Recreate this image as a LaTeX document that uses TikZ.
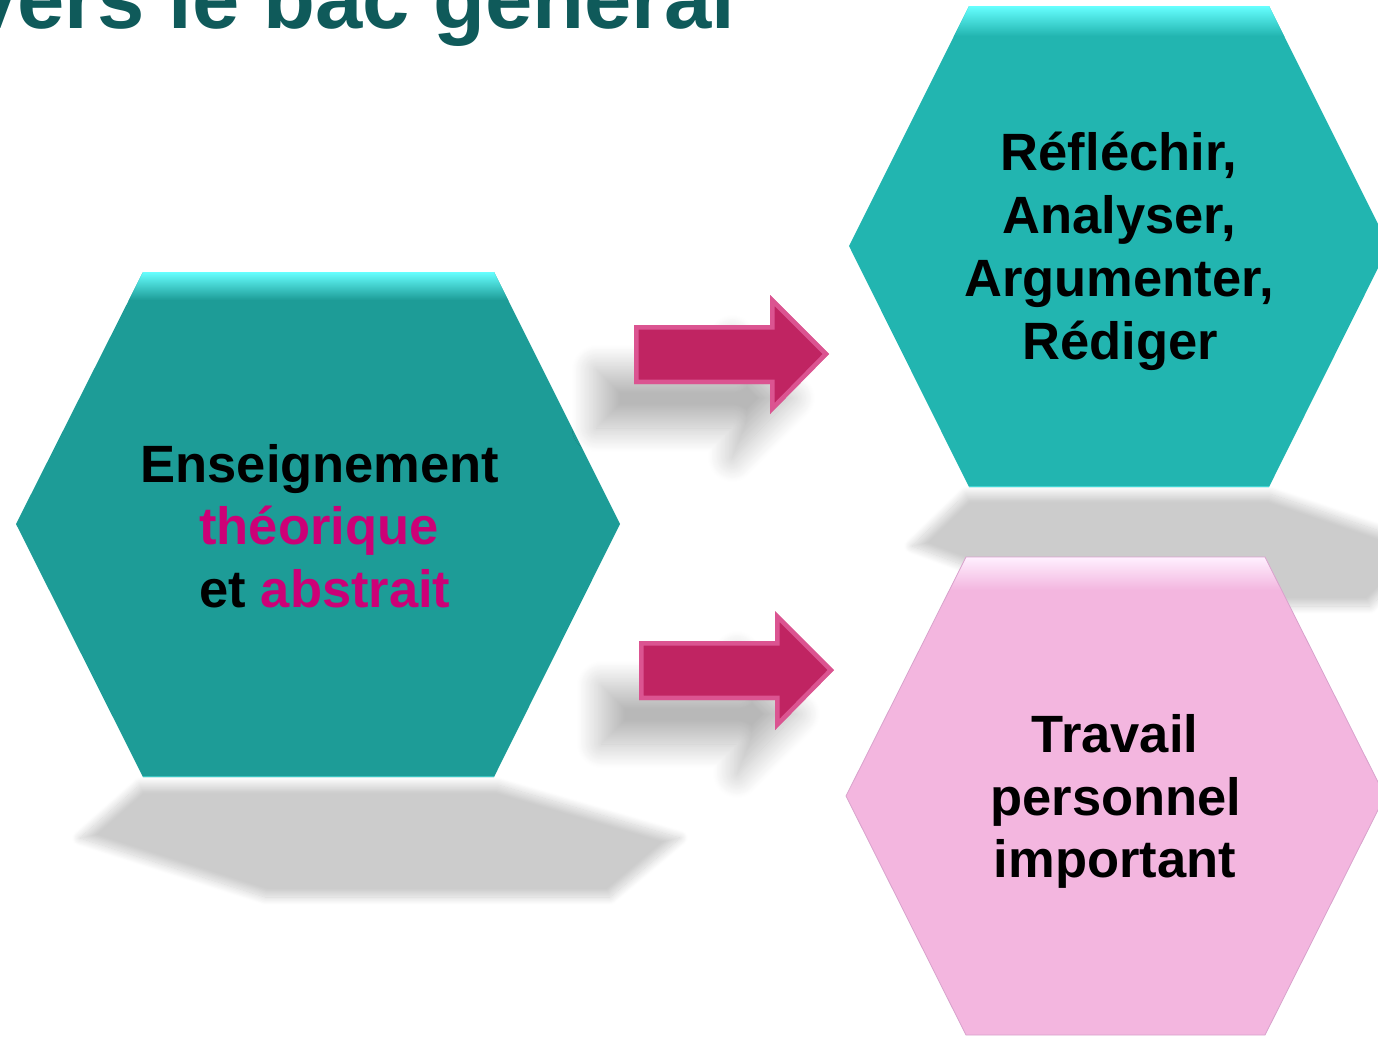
\documentclass[tikz,border=0pt]{standalone}
\usepackage{fontspec}
\setmainfont{Liberation Sans}
\usetikzlibrary{shadows.blur}
\definecolor{tealL}{HTML}{1D9C97}
\definecolor{tealR}{HTML}{22B5B0}
\definecolor{tealhi}{HTML}{66FFFF}
\definecolor{pinkhex}{HTML}{F3B6DF}
\definecolor{pinkhi}{HTML}{FFF0FF}
\definecolor{pinkedge}{HTML}{D8A2CC}
\definecolor{arrowc}{HTML}{C02462}
\definecolor{arrowhi}{HTML}{F27DB9}
\definecolor{mag}{HTML}{CC0077}
\definecolor{titlec}{HTML}{0F5A5A}
\begin{document}
\begin{tikzpicture}[x=1pt,y=-1pt,
  txt/.style={font=\fontsize{52.5}{63}\selectfont\bfseries, inner sep=0pt, anchor=base, text=black},
  floorshadow/.style={blur shadow={shadow xshift=0pt,shadow yshift=0pt,shadow blur radius=8pt,shadow opacity=20,shadow blur steps=20}},
  arrowshadow/.style={blur shadow={shadow xshift=-38pt,shadow yshift=-44pt,shadow blur radius=24pt,shadow opacity=28,shadow blur steps=30}},
  bevel/.style={draw=arrowhi, line width=9pt, opacity=0.55, line join=miter}
]
\useasboundingbox (0,0) rectangle (1378,1037);
\clip (0,0) rectangle (1378,1037);

% title (cut at top, as in the reference)
\node[font=\fontsize{85}{100}\selectfont\bfseries, text=titlec, anchor=base west, inner sep=0pt] (title) at (-30,28) {vers le bac général};

% floor shadows of hexagons
\path[floorshadow] (140,785) -- (498,785) -- (680,838) -- (610,897) -- (265,897) -- (80,838) -- cycle;
\path[floorshadow] (966,494) -- (1270,494) -- (1430,548) -- (1370,606) -- (1075,606) -- (912,546) -- cycle;

% left hexagon
\fill[tealL] (143,272) -- (494,272) -- (620,524) -- (494,777) -- (143,777) -- (16,524) -- cycle;
\begin{scope}
  \clip (143,272) -- (494,272) -- (620,524) -- (494,777) -- (143,777) -- (16,524) -- cycle;
  \shade[top color=tealhi, bottom color=tealL] (0,272) rectangle (700,300);
  \draw[tealhi!40!tealL, line width=3pt] (143,777) -- (494,777);
\end{scope}

% top right hexagon
\fill[tealR] (969,6) -- (1269,6) -- (1389,246) -- (1269,487) -- (969,487) -- (849,246) -- cycle;
\begin{scope}
  \clip (969,6) -- (1269,6) -- (1389,246) -- (1269,487) -- (969,487) -- (849,246) -- cycle;
  \shade[top color=tealhi, bottom color=tealR] (800,6) rectangle (1400,36);
  \draw[tealhi!45!tealR, line width=3pt] (969,487) -- (1269,487);
\end{scope}

% pink hexagon
\fill[pinkhex] (966,557) -- (1265,557) -- (1385,796) -- (1265,1035) -- (966,1035) -- (846,796) -- cycle;
\begin{scope}
  \clip (966,557) -- (1265,557) -- (1385,796) -- (1265,1035) -- (966,1035) -- (846,796) -- cycle;
  \shade[top color=pinkhi, bottom color=pinkhex] (800,557) rectangle (1400,590);
\end{scope}
\draw[pinkedge, line width=0.8pt] (966,557) -- (1265,557) -- (1385,796) -- (1265,1035) -- (966,1035) -- (846,796) -- cycle;

% arrows
\fill[arrowc, arrowshadow] (634,325) -- (770,325) -- (770,295) -- (829,354) -- (770,414) -- (770,384) -- (634,384) -- cycle;
\begin{scope}
  \clip (634,325) -- (770,325) -- (770,295) -- (829,354) -- (770,414) -- (770,384) -- (634,384) -- cycle;
  \draw[bevel] (634,325) -- (770,325) -- (770,295) -- (829,354) -- (770,414) -- (770,384) -- (634,384) -- cycle;
\end{scope}
\fill[arrowc, arrowshadow] (639,641) -- (775,641) -- (775,611) -- (834,670) -- (775,730) -- (775,700) -- (639,700) -- cycle;
\begin{scope}
  \clip (639,641) -- (775,641) -- (775,611) -- (834,670) -- (775,730) -- (775,700) -- (639,700) -- cycle;
  \draw[bevel] (639,641) -- (775,641) -- (775,611) -- (834,670) -- (775,730) -- (775,700) -- (639,700) -- cycle;
\end{scope}

% texts
\node[txt] (L1) at (320,482) {Enseignement};
\node[txt, text=mag] (L2) at (319,544) {théorique};
\node[txt] (L3) at (325,607) {et \textcolor{mag}{abstrait}};

\node[txt] (R1) at (1119,170) {Réfléchir,};
\node[txt] (R2) at (1119,233) {Analyser,};
\node[txt] (R3) at (1119,296) {Argumenter,};
\node[txt] (R4) at (1120,359) {Rédiger};

\node[txt] (P1) at (1115,752) {Travail};
\node[txt] (P2) at (1116,815) {personnel};
\node[txt] (P3) at (1115,877) {important};
\end{tikzpicture}
\end{document}
